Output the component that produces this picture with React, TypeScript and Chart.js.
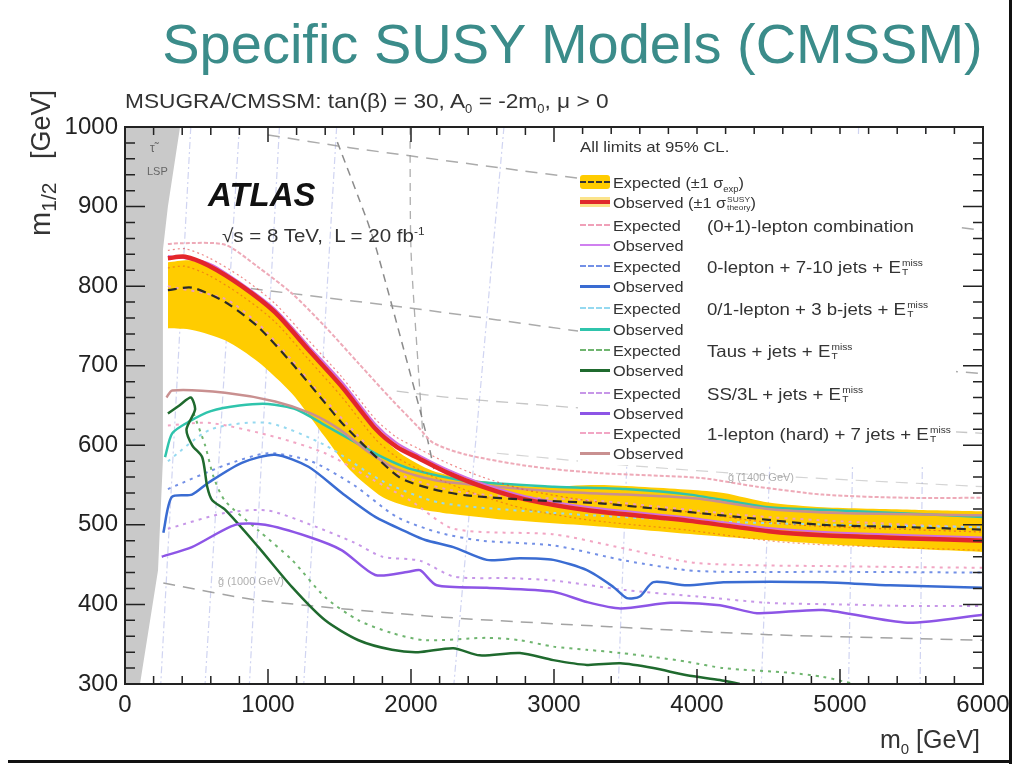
import React, { useEffect, useRef } from "react";
import { Chart, registerables } from "chart.js";

Chart.register(...registerables);

type Pt = [number, number];

// ---------- axis ticks ----------
const xTickValues = [0, 1000, 2000, 3000, 4000, 5000, 6000];
const yTickValues = [300, 400, 500, 600, 700, 800, 900, 1000];

// ---------- stau-LSP excluded region ----------
const lspBoundary: Pt[] = [[0, 1000], [385, 1000], [300, 900], [265, 845], [265, 581], [231, 443], [105, 300], [0, 300]];

// ---------- combined expected / observed ----------
const bandUpper: Pt[] = [[300, 830], [470, 832], [700, 815], [930, 788], [1167, 750], [1400, 700], [1700, 628], [1925, 590], [2150, 568], [2390, 558], [2855, 548], [3320, 550], [3950, 544], [4185, 540], [4500, 528], [4880, 522], [5500, 519], [6000, 517]];
const bandLower: Pt[] = [[300, 747], [470, 745], [700, 732], [930, 705], [1167, 665], [1400, 610], [1573, 569], [1800, 535], [2000, 522], [2224, 515], [2692, 506], [3390, 497], [4185, 485], [4880, 476], [5500, 470], [6000, 466]];
const expectedComb: Pt[] = [[300, 795], [470, 798], [700, 780], [930, 749], [1167, 703], [1400, 653], [1517, 628], [1700, 595], [1925, 559], [2150, 545], [2390, 537], [2855, 531], [3320, 527], [3950, 516], [4400, 508], [4880, 500], [5500, 497], [6000, 494]];
const observedComb: Pt[] = [[300, 835], [420, 837], [583, 826], [817, 800], [1050, 767], [1283, 720], [1520, 673], [1750, 621], [1900, 598], [2050, 584], [2250, 566], [2500, 548], [2800, 532], [3250, 518], [3950, 505], [4500, 492], [4880, 487], [5500, 483], [6000, 480]];
const observedTheoryUp: Pt[] = [[300, 845], [420, 847], [583, 836], [817, 811], [1050, 778], [1283, 732], [1520, 685], [1750, 633], [1900, 610], [2050, 596], [2250, 578], [2500, 560], [2800, 544], [3250, 530], [3950, 516], [4500, 503], [4880, 498], [5500, 494], [6000, 491]];
const observedTheoryDown: Pt[] = [[300, 823], [420, 825], [583, 814], [817, 788], [1050, 755], [1283, 708], [1520, 660], [1750, 608], [1900, 585], [2050, 570], [2250, 553], [2500, 536], [2800, 520], [3250, 506], [3950, 493], [4500, 480], [4880, 475], [5500, 471], [6000, 468]];
const paleUpper: Pt[] = [[300, 853], [397, 854], [700, 852], [930, 824], [1167, 791], [1400, 749], [1633, 703], [1867, 657], [2050, 623], [2156, 603], [2390, 588], [2855, 573], [3320, 565], [4020, 559], [4420, 548], [4880, 538], [5470, 534], [6000, 534]];

// ---------- (0+1)-lepton combination ----------
const zeroOneExp: Pt[] = [[300, 800], [700, 784], [930, 753], [1167, 707], [1400, 657], [1700, 599], [1925, 563], [2390, 540], [3320, 530], [4400, 511], [5500, 500], [6000, 497]];
const zeroOneObs: Pt[] = [[300, 838], [583, 829], [817, 803], [1050, 771], [1283, 725], [1520, 679], [1750, 627], [1900, 603], [2050, 588], [2250, 570], [2500, 552], [2800, 536], [3250, 522], [3950, 509], [4500, 496], [5000, 490], [6000, 484]];

// ---------- 0-lepton + 7-10 jets ----------
const multijetExp: Pt[] = [[300, 545], [700, 575], [1000, 590], [1300, 580], [1600, 550], [1900, 510], [2200, 490], [2500, 480], [3000, 474], [3500, 455], [4000, 442], [5000, 441], [6000, 440]];
const multijetObs: Pt[] = [[268, 490], [327, 535], [468, 538], [583, 553], [817, 578], [1050, 588], [1283, 573], [1517, 540], [1750, 510], [1983, 490], [2100, 481], [2296, 472], [2530, 456], [2762, 458], [2995, 456], [3230, 443], [3415, 422], [3510, 408], [3600, 410], [3695, 428], [3930, 424], [4185, 428], [4880, 428], [5350, 424], [6000, 421]];

// ---------- 0/1-lepton + 3 b-jets ----------
const bjetsExp: Pt[] = [[300, 580], [600, 620], [1000, 628], [1400, 600], [1800, 555], [2200, 528], [3000, 515], [4000, 505], [5000, 500], [6000, 497]];
const bjetsObs: Pt[] = [[280, 585], [330, 615], [450, 630], [600, 643], [800, 650], [1000, 652], [1200, 645], [1400, 625], [1600, 605], [1800, 585], [2000, 570], [2400, 555], [3000, 548], [3500, 545], [3950, 538], [4500, 522], [4880, 519], [5500, 514], [6000, 510]];

// ---------- Taus + jets ----------
const tausExp: Pt[] = [[480, 640], [560, 600], [620, 560], [700, 530], [933, 493], [1167, 456], [1400, 409], [1633, 380], [1867, 364], [2100, 355], [2530, 358], [2762, 355], [2995, 347], [3230, 343], [3465, 339], [3695, 334], [3930, 328], [4185, 320], [4650, 314], [4880, 309], [5100, 300]];
const tausObs: Pt[] = [[300, 640], [380, 650], [460, 660], [490, 645], [430, 620], [470, 600], [540, 585], [575, 548], [610, 531], [700, 519], [933, 472], [1167, 422], [1400, 380], [1633, 355], [1867, 343], [2050, 340], [2296, 345], [2480, 336], [2762, 339], [2995, 330], [3230, 324], [3465, 326], [3695, 320], [3930, 311], [4160, 305], [4300, 300]];

// ---------- SS/3L + jets ----------
const ss3lExp: Pt[] = [[300, 495], [700, 515], [1000, 518], [1300, 500], [1600, 478], [1800, 460], [2063, 455], [2300, 435], [2700, 433], [3000, 430], [3500, 418], [4000, 410], [4500, 402], [5000, 400], [5500, 398], [6000, 398]];
const ss3lObs: Pt[] = [[257, 460], [468, 472], [770, 500], [980, 500], [1283, 485], [1517, 468], [1750, 437], [1983, 441], [2063, 443], [2180, 424], [2530, 421], [2995, 416], [3230, 403], [3465, 395], [3815, 402], [4160, 399], [4420, 389], [4880, 393], [5470, 377], [6000, 387]];

// ---------- 1-lepton (hard) + 7 jets ----------
const oneLepExp: Pt[] = [[300, 625], [600, 628], [1060, 610], [1400, 590], [1700, 560], [2000, 530], [2300, 495], [3000, 488], [3500, 470], [4000, 452], [5000, 448], [6000, 446]];
const oneLepObs: Pt[] = [[290, 660], [330, 669], [700, 666], [1050, 655], [1300, 640], [1500, 620], [1700, 592], [1900, 570], [2200, 555], [2600, 548], [3000, 542], [3500, 538], [4000, 533], [4500, 520], [5000, 515], [6000, 512]];

// ---------- mass contours (gray dashed) ----------
const gluinoA: Pt[] = [[1000, 990], [1573, 974], [3160, 936], [4500, 905], [6000, 870]];
const gluinoB: Pt[] = [[880, 797], [2100, 770], [3110, 745], [4500, 712], [6000, 690]];
const gluinoE: Pt[] = [[1900, 668], [2270, 660], [3100, 648], [4500, 630], [6000, 615]];
const gluinoD: Pt[] = [[2600, 590], [3500, 575], [4500, 562], [6000, 548]];
const gluinoC: Pt[] = [[268, 427], [944, 405], [2224, 384], [3390, 372], [4500, 362], [6000, 355]];
const squarkS1: Pt[] = [[1485, 981], [1692, 883], [1762, 844], [1950, 720], [2112, 610], [2160, 570]];
const squarkS2: Pt[] = [[1993, 1000], [2000, 845], [2050, 700], [2084, 610]];
const faintContours: Pt[][] = [
  [[460, 1000], [250, 300]],
  [[800, 1000], [560, 300]],
  [[1080, 1000], [870, 300]],
  [[1480, 1000], [1250, 300]],
  [[2650, 1000], [2300, 300]],
  [[3600, 1000], [3450, 300]],
  [[4600, 1000], [4450, 300]],
  [[5130, 1000], [5060, 300]],
  [[5600, 1000], [5560, 300]],
];

const toXY = (pts: Pt[]) => pts.map(([x, y]) => ({ x, y }));

function ds(label: string, pts: Pt[], color: string, width: number, dash: number[], order: number, extra: any = {}) {
  return {
    label,
    data: toXY(pts),
    borderColor: color,
    backgroundColor: color,
    borderWidth: width,
    borderDash: dash,
    pointRadius: 0,
    fill: false,
    tension: 0.25,
    order,
    ...extra,
  };
}

const framePlugin = {
  id: "atlasFrame",
  beforeDatasetsDraw(chart: any) {
    const { ctx, chartArea: a, scales } = chart;
    const x = scales.x, y = scales.y;
    ctx.save();
    ctx.beginPath();
    ctx.rect(a.left, a.top, a.right - a.left, a.bottom - a.top);
    ctx.clip();
    ctx.fillStyle = "#c9c9c9";
    ctx.beginPath();
    lspBoundary.forEach(([m0, m12], i) => {
      const px = x.getPixelForValue(m0), py = y.getPixelForValue(m12);
      if (i === 0) ctx.moveTo(px, py); else ctx.lineTo(px, py);
    });
    ctx.closePath();
    ctx.fill();
    ctx.restore();
  },
  afterDatasetsDraw(chart: any) {
    const { ctx, chartArea: a, scales } = chart;
    const x = scales.x, y = scales.y;
    ctx.save();
    ctx.strokeStyle = "#222";
    ctx.lineWidth = 1.5;
    for (let v = x.min; v <= x.max + 1e-6; v += 200) {
      const px = x.getPixelForValue(v);
      const len = xTickValues.includes(v) ? 15 : 8;
      ctx.beginPath();
      ctx.moveTo(px, a.bottom); ctx.lineTo(px, a.bottom - len);
      ctx.moveTo(px, a.top); ctx.lineTo(px, a.top + len);
      ctx.stroke();
    }
    for (let v = y.min; v <= y.max + 1e-6; v += 20) {
      const py = y.getPixelForValue(v);
      const len = yTickValues.includes(v) ? 20 : 10;
      ctx.beginPath();
      ctx.moveTo(a.left, py); ctx.lineTo(a.left + len, py);
      ctx.moveTo(a.right, py); ctx.lineTo(a.right - len, py);
      ctx.stroke();
    }
    ctx.lineWidth = 2;
    ctx.strokeRect(a.left, a.top, a.right - a.left, a.bottom - a.top);
    ctx.restore();
  },
};

function Swatch({ kind, color, width = 2 }: { kind: string; color?: string; width?: number }) {
  if (kind === "band")
    return (
      <div style={{ width: 30, height: 14, background: "#ffcc00", position: "relative", borderRadius: 3 }}>
        <div style={{ position: "absolute", left: 0, right: 0, top: 6, borderTop: "2px dashed #333" }} />
      </div>
    );
  if (kind === "obsband")
    return (
      <div style={{ width: 30, height: 10, background: "#fbe38a", position: "relative" }}>
        <div style={{ position: "absolute", left: 0, right: 0, top: 3, height: 4, background: "#e0282a" }} />
      </div>
    );
  return <div style={{ width: 30, borderTop: `${width}px ${kind} ${color}` }} />;
}

function Stack({ top, bottom, size = 9, shift = 6 }: { top: string; bottom: string; size?: number; shift?: number }) {
  return (
    <span style={{ display: "inline-flex", flexDirection: "column", fontSize: size, lineHeight: `${size}px`, verticalAlign: `${shift}px`, marginLeft: 1 }}>
      <span>{top}</span>
      <span>{bottom}</span>
    </span>
  );
}

function Etmiss() {
  return (
    <span>
      E<Stack top="miss" bottom="T" size={9} shift={7} />
    </span>
  );
}

const legendRowY = [182, 202, 225, 245, 266, 286, 308, 329, 350, 370, 393, 413, 433, 453];

export default function App() {
  const ref = useRef<HTMLCanvasElement>(null);

  useEffect(() => {
    const datasets: any[] = [];
    faintContours.forEach((pts, i) =>
      datasets.push(ds("contour" + i, pts, "rgba(150,160,225,0.45)", 1.2, [7, 3, 2, 3], 60, { tension: 0 }))
    );
    datasets.push(ds("gA", gluinoA, "rgba(150,150,150,0.8)", 1.5, [12, 8], 50));
    datasets.push(ds("gB", gluinoB, "rgba(150,150,150,0.8)", 1.5, [12, 8], 50));
    datasets.push(ds("gE", gluinoE, "rgba(160,160,160,0.6)", 1.3, [12, 8], 50));
    datasets.push(ds("gD", gluinoD, "rgba(170,170,170,0.5)", 1.2, [12, 8], 50));
    datasets.push(ds("gC", gluinoC, "rgba(140,140,140,0.8)", 1.5, [12, 8], 50));
    datasets.push(ds("sS1", squarkS1, "rgba(110,110,110,0.8)", 1.5, [8, 6], 50));
    datasets.push(ds("sS2", squarkS2, "rgba(140,140,140,0.7)", 1.3, [8, 6], 50));
    datasets.push(ds("bandUp", bandUpper, "rgba(0,0,0,0)", 0, [], 40, { fill: "+1", backgroundColor: "#ffcc00" }));
    datasets.push(ds("bandDown", bandLower, "rgba(0,0,0,0)", 0, [], 40));
    datasets.push(ds("paleUpper", paleUpper, "#eeaab8", 2, [4, 2], 30));
    datasets.push(ds("oneLepExp", oneLepExp, "#f2a6c4", 2, [3, 5], 25));
    datasets.push(ds("ss3lExp", ss3lExp, "#c797e8", 2, [3, 5], 25));
    datasets.push(ds("tausExp", tausExp, "#6fb56f", 2, [3, 5], 25));
    datasets.push(ds("bjetsExp", bjetsExp, "#95d9f0", 2, [3, 5], 25));
    datasets.push(ds("multijetExp", multijetExp, "#7390e6", 2, [3, 5], 25));
    datasets.push(ds("zeroOneExp", zeroOneExp, "#f0a0b8", 2, [3, 5], 25));
    datasets.push(ds("oneLepObs", oneLepObs, "#c99090", 2.5, [], 20));
    datasets.push(ds("ss3lObs", ss3lObs, "#8d55e6", 2.5, [], 20));
    datasets.push(ds("tausObs", tausObs, "#1f6a2e", 2.5, [], 20));
    datasets.push(ds("bjetsObs", bjetsObs, "#2fc4ac", 2.5, [], 20));
    datasets.push(ds("multijetObs", multijetObs, "#3a6cd2", 2.5, [], 20));
    datasets.push(ds("theoryUp", observedTheoryUp, "rgba(226,58,58,0.6)", 1.2, [2, 3], 15));
    datasets.push(ds("theoryDown", observedTheoryDown, "rgba(232,90,32,0.6)", 1.2, [2, 3], 15));
    datasets.push(ds("zeroOneObs", zeroOneObs, "#d070e0", 2, [], 12));
    datasets.push(ds("observed", observedComb, "#e3262b", 4.5, [], 10));
    datasets.push(ds("expected", expectedComb, "#2a2a2a", 2.2, [9, 6], 5));

    const tickFont = { family: "'Liberation Sans', Arial, sans-serif", size: 24 };
    const chart = new Chart(ref.current as HTMLCanvasElement, {
      type: "line",
      data: { datasets },
      plugins: [framePlugin],
      options: {
        animation: false,
        responsive: false,
        devicePixelRatio: 1,
        events: [],
        layout: { padding: { top: 127, right: 35, left: 0, bottom: 0 } },
        plugins: { legend: { display: false }, tooltip: { enabled: false }, title: { display: false } },
        scales: {
          x: {
            type: "linear",
            min: 0,
            max: 6000,
            afterFit: (s: any) => { s.height = 82; },
            afterBuildTicks: (s: any) => { s.ticks = xTickValues.map((v) => ({ value: v })); },
            grid: { display: false, drawTicks: false },
            border: { display: false },
            ticks: { font: tickFont, color: "#222", padding: 7, autoSkip: false, maxRotation: 0, callback: (v: any) => String(v) },
          },
          y: {
            type: "linear",
            min: 300,
            max: 1000,
            afterFit: (s: any) => { s.width = 125; },
            afterBuildTicks: (s: any) => { s.ticks = yTickValues.map((v) => ({ value: v })); },
            grid: { display: false, drawTicks: false },
            border: { display: false },
            ticks: { font: tickFont, color: "#222", padding: 7, autoSkip: false, callback: (v: any) => String(v) },
          },
        },
      } as any,
    });
    return () => chart.destroy();
  }, []);

  const abs = (left: number, top: number, extra: any = {}) => ({ position: "absolute" as const, left, top, whiteSpace: "nowrap" as const, lineHeight: 1, ...extra });
  const wide = (k: number) => ({ transform: `scaleX(${k})`, transformOrigin: "left center" });

  return (
    <div style={{ position: "absolute", left: 0, top: 0, width: 1018, height: 766, background: "#fff", fontFamily: "'Liberation Sans', Arial, sans-serif", overflow: "hidden" }}>
      <canvas ref={ref} width={1018} height={766} style={{ position: "absolute", left: 0, top: 0, width: 1018, height: 766 }} />

      {/* slide frame */}
      <div style={{ position: "absolute", left: 1009, top: 0, width: 3, height: 764, background: "#111" }} />
      <div style={{ position: "absolute", left: 8, top: 760, width: 1004, height: 3, background: "#111" }} />

      {/* slide title */}
      <div style={abs(155, 16, { width: 835, textAlign: "center", fontSize: 56, color: "#3b8c8a" })}>Specific SUSY Models (CMSSM)</div>

      {/* model subtitle */}
      <div style={abs(125, 90, { fontSize: 21, color: "#333", ...wide(1.08) })}>
        MSUGRA/CMSSM: tan(β) = 30, A<sub style={{ fontSize: 12 }}>0</sub> = -2m<sub style={{ fontSize: 12 }}>0</sub>, μ &gt; 0
      </div>

      {/* axis titles */}
      <div style={abs(-80, 194, { width: 240, height: 32, lineHeight: "32px", textAlign: "right", fontSize: 27, color: "#333", transform: "rotate(-90deg)", transformOrigin: "50% 50%" })}>
        <span style={{ fontSize: 29 }}>m</span><sub style={{ fontSize: 21, marginRight: 16 }}>1/2</sub> [GeV]
      </div>
      <div style={abs(880, 727, { fontSize: 25, color: "#333" })}>
        m<sub style={{ fontSize: 15 }}>0</sub> [GeV]
      </div>

      {/* ATLAS label */}
      <div style={abs(208, 178, { fontSize: 33, fontWeight: "bold", fontStyle: "italic", color: "#111" })}>ATLAS</div>
      <div style={abs(222, 226, { fontSize: 19, color: "#333", ...wide(1.08) })}>
        √s = 8 TeV,&nbsp; L = 20 fb<sup style={{ fontSize: 11 }}>-1</sup>
      </div>

      {/* LSP region label */}
      <div style={abs(150, 142, { fontSize: 12, color: "#666" })}>τ̃</div>
      <div style={abs(147, 166, { fontSize: 11, color: "#666" })}>LSP</div>

      {/* contour labels */}
      <div style={abs(218, 576, { fontSize: 11, color: "rgba(120,120,120,0.6)" })}>g̃ (1000 GeV)</div>
      <div style={abs(728, 472, { fontSize: 11, color: "rgba(120,120,120,0.6)" })}>g̃ (1400 GeV)</div>

      {/* legend */}
      <div style={{ position: "absolute", left: 578, top: 134, width: 378, height: 331, background: "#fff" }} />
      <div style={abs(580, 139, { fontSize: 15, color: "#333", ...wide(1.12) })}>All limits at 95% CL.</div>
      {[
        { sw: <Swatch kind="band" />, lab: <span>Expected (±1 σ<sub style={{ fontSize: 9 }}>exp</sub>)</span>, desc: null },
        { sw: <Swatch kind="obsband" />, lab: <span>Observed (±1 σ<Stack top="SUSY" bottom="theory" size={8} shift={6} />)</span>, desc: null },
        { sw: <Swatch kind="dashed" color="#f0a0b8" />, lab: "Expected", desc: <span>(0+1)-lepton combination</span> },
        { sw: <Swatch kind="solid" color="#d080f0" />, lab: "Observed", desc: null },
        { sw: <Swatch kind="dashed" color="#7390e6" />, lab: "Expected", desc: <span>0-lepton + 7-10 jets + <Etmiss /></span> },
        { sw: <Swatch kind="solid" color="#3a6cd2" width={3} />, lab: "Observed", desc: null },
        { sw: <Swatch kind="dashed" color="#95d9f0" />, lab: "Expected", desc: <span>0/1-lepton + 3 b-jets + <Etmiss /></span> },
        { sw: <Swatch kind="solid" color="#2fc4ac" width={3} />, lab: "Observed", desc: null },
        { sw: <Swatch kind="dashed" color="#6fb56f" />, lab: "Expected", desc: <span>Taus + jets + <Etmiss /></span> },
        { sw: <Swatch kind="solid" color="#1f6a2e" width={3} />, lab: "Observed", desc: null },
        { sw: <Swatch kind="dashed" color="#c797e8" />, lab: "Expected", desc: <span>SS/3L + jets + <Etmiss /></span> },
        { sw: <Swatch kind="solid" color="#8d55e6" width={3} />, lab: "Observed", desc: null },
        { sw: <Swatch kind="dashed" color="#f2a6c4" />, lab: "Expected", desc: <span>1-lepton (hard) + 7 jets + <Etmiss /></span> },
        { sw: <Swatch kind="solid" color="#c99090" width={3} />, lab: "Observed", desc: null },
      ].map((r, i) => (
        <React.Fragment key={i}>
          <div style={{ position: "absolute", left: 580, top: legendRowY[i] - 8, height: 16, display: "flex", alignItems: "center" }}>{r.sw}</div>
          <div style={abs(613, legendRowY[i] - 7, { fontSize: 15.5, color: "#333", ...wide(1.05) })}>{r.lab}</div>
          {r.desc && <div style={abs(707, legendRowY[i] - 7, { fontSize: 16.5, color: "#333", ...wide(1.13) })}>{r.desc}</div>}
        </React.Fragment>
      ))}
    </div>
  );
}
